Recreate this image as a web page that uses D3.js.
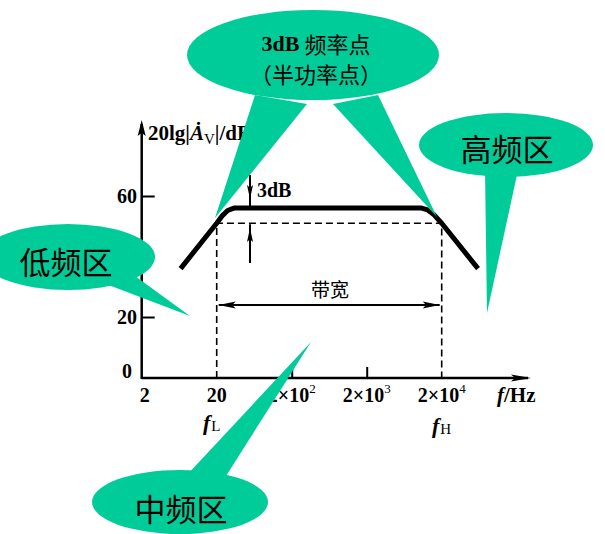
<!DOCTYPE html>
<html>
<head>
<meta charset="utf-8">
<script src="https://cdn.jsdelivr.net/npm/d3@7/dist/d3.min.js"></script>
<style>
  html, body { margin: 0; padding: 0; background: #fff; }
  svg { display: block; }
</style>
</head>
<body>
<svg id="chart" width="605" height="534"></svg>
<script>
// ---- data ----
const freqs = [6.6, 20, 24, 28, 34, 10800, 13000, 15500, 20000, 61000];
const gains = [36, 51, 53.6, 55.2, 56, 56, 55.4, 54, 51, 36];
const fL = 20, fH = 20000, halfPowerLevel = 51, midLevel = 56;
const xTickValues = [2, 20, 200, 2000, 20000];
const xTickLabels = [["2", ""], ["20", ""], ["2×10", "2"], ["2×10", "3"], ["2×10", "4"]];
const xTickMarks = [200, 2000];
const yTickValues = [0, 20, 40, 60];
const yTickLabels = ["0", "20", "40", "60"];
const callouts = [
  { lines: [["3dB", " 频率点"], ["（半功率点）"]] },
  { lines: [["低频区"]] },
  { lines: [["高频区"]] },
  { lines: [["中频区"]] }
];

const TEAL = "#00CC99";
const SERIF = "'Liberation Serif','Times New Roman',serif";
const CJK = "'Noto Sans CJK SC','Noto Sans CJK TC',sans-serif";

const svg = d3.select("#chart");
const x = d3.scaleLog().domain([2, 20000]).range([141.7, 441.7]);
const y = d3.scaleLinear().domain([0, 60]).range([377.5, 196]);
const axisY = 378, axisX = x(2);

// ---- axes lines ----
function arrow(tipX, tipY, dir, len, w) {
  let pts;
  if (dir === "up") pts = [[tipX, tipY], [tipX - w / 2, tipY + len], [tipX, tipY + len * 0.8], [tipX + w / 2, tipY + len]];
  else if (dir === "down") pts = [[tipX, tipY], [tipX - w / 2, tipY - len], [tipX, tipY - len * 0.8], [tipX + w / 2, tipY - len]];
  else if (dir === "right") pts = [[tipX, tipY], [tipX - len, tipY - w / 2], [tipX - len * 0.8, tipY], [tipX - len, tipY + w / 2]];
  else pts = [[tipX, tipY], [tipX + len, tipY - w / 2], [tipX + len * 0.8, tipY], [tipX + len, tipY + w / 2]];
  svg.append("polygon").attr("points", pts.map(p => p.join(",")).join(" ")).attr("fill", "#000");
}

svg.append("line").attr("x1", axisX).attr("x2", 528).attr("y1", axisY).attr("y2", axisY)
  .attr("stroke", "#000").attr("stroke-width", 2.5);
svg.append("line").attr("x1", axisX).attr("x2", axisX).attr("y1", axisY + 1).attr("y2", 124)
  .attr("stroke", "#000").attr("stroke-width", 2.5);
arrow(531, axisY, "right", 20, 7);
arrow(axisX, 120, "up", 16, 8);

// x ticks (inward) via d3 axis
const xAxis = d3.axisBottom(x).tickValues(xTickMarks).tickSize(-11).tickFormat("");
const gx = svg.append("g").attr("transform", `translate(0,${axisY})`).call(xAxis);
gx.select(".domain").remove();
gx.selectAll(".tick line").attr("stroke", "#000").attr("stroke-width", 2);

// y ticks (inward)
const yAxis = d3.axisLeft(y).tickValues(yTickValues.filter(v => v > 0)).tickSize(-13).tickFormat("");
const gy = svg.append("g").attr("transform", `translate(${axisX},0)`).call(yAxis);
gy.select(".domain").remove();
gy.selectAll(".tick line").attr("stroke", "#000").attr("stroke-width", 2);

// x tick labels
xTickValues.forEach((v, i) => {
  const t = svg.append("text").attr("x", x(v) + (i === 0 ? 3 : 0)).attr("y", axisY + 24)
    .attr("text-anchor", "middle").attr("font-family", SERIF).attr("font-weight", "bold")
    .attr("font-size", 20);
  t.append("tspan").text(xTickLabels[i][0]);
  if (xTickLabels[i][1]) t.append("tspan").attr("dy", -9).attr("font-size", 13).attr("font-weight", "normal").text(xTickLabels[i][1]);
});
// y tick labels
yTickValues.forEach((v, i) => {
  svg.append("text").attr("x", v === 0 ? 132 : 137).attr("y", v === 0 ? y(v) : y(v) + 7)
    .attr("text-anchor", "end").attr("font-family", SERIF).attr("font-weight", "bold")
    .attr("font-size", 20).text(yTickLabels[i]);
});

// axis titles
const yt = svg.append("text").attr("x", 148).attr("y", 140).attr("font-family", SERIF)
  .attr("font-weight", "bold").attr("font-size", 21);
yt.append("tspan").text("20lg|");
yt.append("tspan").attr("font-style", "italic").text("Ȧ");
yt.append("tspan").attr("dy", 4).attr("font-size", 15).attr("font-weight", "normal").text("V");
yt.append("tspan").attr("dy", -4).text("|/dB");

const xt = svg.append("text").attr("x", 497).attr("y", 402).attr("font-family", SERIF)
  .attr("font-weight", "bold").attr("font-size", 21);
xt.append("tspan").attr("font-style", "italic").text("f");
xt.append("tspan").text("/Hz");

// fL / fH labels
[[fL, 203, 430, "L"], [fH, 432, 433, "H"]].forEach(([f, lx, ly, sub]) => {
  const t = svg.append("text").attr("x", lx).attr("y", ly).attr("font-family", SERIF)
    .attr("font-weight", "bold").attr("font-size", 22);
  t.append("tspan").attr("font-style", "italic").text("f");
  t.append("tspan").attr("dx", 1).attr("dy", 1).attr("font-size", 15).attr("font-weight", "normal").text(sub);
});

// dashed guides
const yHP = y(halfPowerLevel);
svg.append("path").attr("d", `M${x(fL)},${axisY}V${yHP}H${x(fH)}V${axisY}`)
  .attr("fill", "none").attr("stroke", "#000").attr("stroke-width", 1.6)
  .attr("stroke-dasharray", "7,4");

// response curve
const line = d3.line().x(d => x(d[0])).y(d => y(d[1])).curve(d3.curveLinear);
svg.append("path").datum(freqs.map((f, i) => [f, gains[i]])).attr("d", line)
  .attr("fill", "none").attr("stroke", "#000").attr("stroke-width", 5)
  .attr("stroke-linejoin", "round");

// 3dB arrows
const ax = 250, yMid = y(midLevel);
svg.append("line").attr("x1", ax).attr("x2", ax).attr("y1", 175).attr("y2", yMid)
  .attr("stroke", "#000").attr("stroke-width", 2);
arrow(ax, 199, "down", 14, 6);
svg.append("line").attr("x1", ax).attr("x2", ax).attr("y1", 263).attr("y2", yHP + 1)
  .attr("stroke", "#000").attr("stroke-width", 2);
arrow(ax, 228, "up", 14, 6);
svg.append("text").attr("x", 257).attr("y", 197).attr("font-family", SERIF)
  .attr("font-weight", "bold").attr("font-size", 20).text("3dB");

// bandwidth arrow
const bwY = 305;
svg.append("line").attr("x1", x(fL) + 2).attr("x2", x(fH) - 2).attr("y1", bwY).attr("y2", bwY)
  .attr("stroke", "#000").attr("stroke-width", 2);
arrow(x(fL) + 2, bwY, "left", 17, 7);
arrow(x(fH) - 2, bwY, "right", 17, 7);
svg.append("text").attr("x", 330).attr("y", 297).attr("text-anchor", "middle")
  .attr("font-family", CJK).attr("font-size", 19).text("带宽");

// ---- callouts ----
const shapes = [
  { cx: 313, cy: 55, rx: 126, ry: 45,
    tails: [[[255, 95], [215, 218], [307, 104]], [[333, 104], [437, 217], [378, 95]]],
    tx: 316, ty: [43, 73], fs: 22 },
  { cx: 68, cy: 257, rx: 87, ry: 33, tails: [[[106, 284], [135, 276], [190, 316]]],
    tx: 66, ty: [260], fs: 31 },
  { cx: 506, cy: 145, rx: 87, ry: 32, tails: [[[485, 170], [518, 170], [487, 313]]],
    tx: 507, ty: [147], fs: 31 },
  { cx: 180, cy: 502, rx: 88, ry: 32, tails: [[[186, 476], [226, 476], [311, 342]]],
    tx: 181, ty: [507], fs: 31 }
];
shapes.forEach((s, i) => {
  s.tails.forEach(tp => svg.append("polygon").attr("points", tp.map(p => p.join(",")).join(" "))
    .attr("fill", TEAL));
  svg.append("ellipse").attr("cx", s.cx).attr("cy", s.cy).attr("rx", s.rx).attr("ry", s.ry)
    .attr("fill", TEAL);
  callouts[i].lines.forEach((ln, j) => {
    const t = svg.append("text").attr("x", s.tx).attr("y", s.ty[j]).attr("text-anchor", "middle")
      .attr("dominant-baseline", "central").attr("font-size", s.fs).attr("fill", "#000");
    ln.forEach(part => {
      const isLatin = /^[0-9A-Za-z]+$/.test(part);
      t.append("tspan").attr("font-family", isLatin ? SERIF : CJK)
        .attr("font-weight", isLatin ? "bold" : "normal").text(part);
    });
  });
});
</script>
</body>
</html>
